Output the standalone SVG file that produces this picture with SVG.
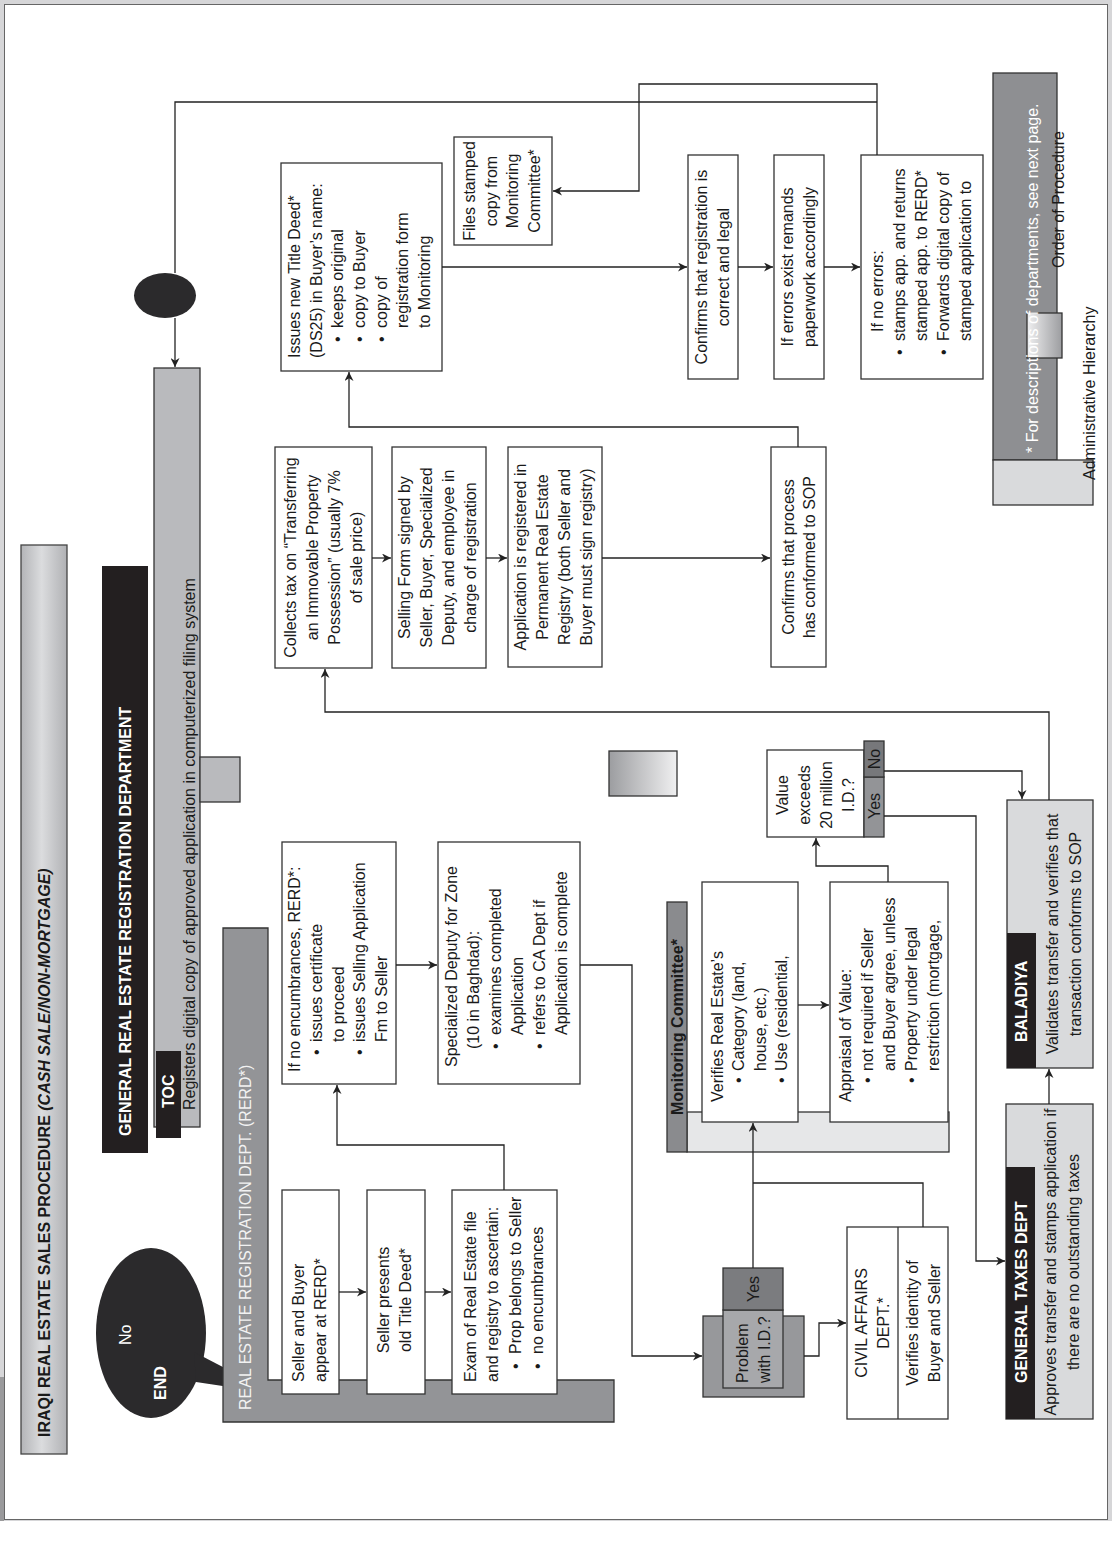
<svg xmlns="http://www.w3.org/2000/svg" width="1112" height="1552" viewBox="0 0 1112 1552">
<defs>
<style>
.t{font-family:"Liberation Sans",Arial,Helvetica,sans-serif;font-size:16px;fill:#1a1a1a}
.b{font-weight:bold}
.w{fill:#ffffff}
.c{text-anchor:middle}
.box{fill:#ffffff;stroke:#333333;stroke-width:1.3}
.gbox{fill:#d9dadc;stroke:#333333;stroke-width:1.3}
.blk{fill:#231f20}
.conn{fill:none;stroke:#222222;stroke-width:1.3}
.arr{marker-end:url(#arr)}
</style>
<marker id="arr" viewBox="0 0 10 10" refX="10" refY="5" markerWidth="11" markerHeight="9" markerUnits="userSpaceOnUse" orient="auto">
<path d="M0,0 L10,5 L0,10 L3,5 Z" fill="#222222"/>
</marker>
<linearGradient id="gTitle" x1="0" y1="0" x2="0" y2="1">
<stop offset="0" stop-color="#b3b4b7"/>
<stop offset="0.45" stop-color="#dbdcde"/>
<stop offset="1" stop-color="#b0b1b4"/>
</linearGradient>
<linearGradient id="gMid" x1="0" y1="0" x2="0" y2="1">
<stop offset="0" stop-color="#9c9da0"/>
<stop offset="1" stop-color="#f0f0f1"/>
</linearGradient>
<linearGradient id="gLeg" x1="0" y1="0" x2="0" y2="1">
<stop offset="0" stop-color="#f0f0f1"/>
<stop offset="1" stop-color="#9c9da0"/>
</linearGradient>
</defs>

<g id="page">
<rect x="0" y="0" width="1112" height="1521" fill="#d6d6d8"/>
<rect x="4.5" y="4.5" width="1103" height="1515" fill="#ffffff" stroke="#666666" stroke-width="1"/>
<rect x="0" y="1377" width="4" height="144" fill="#9a9a9c"/>
</g>

<g transform="translate(0,1552) rotate(-90)">

<g id="title">
<rect x="98" y="21" width="909" height="46" fill="url(#gTitle)" stroke="#444444" stroke-width="1.3"/>
<text x="115" y="50" class="t b">IRAQI REAL ESTATE SALES PROCEDURE <tspan font-style="italic">(CASH SALE/NON-MORTGAGE)</tspan></text>
</g>

<g id="end">
<ellipse cx="219" cy="151" rx="85" ry="55" fill="#2b2a2c"/>
<path d="M200,194 L158,275 L170,196 Z" fill="#2b2a2c"/>
<text x="207" y="131" class="t w" font-size="14">No</text>
<text x="152" y="166" class="t b w" font-size="24">END</text>
</g>

<g id="grerd-header">
<rect x="399" y="102" width="587" height="46" class="blk"/>
<text x="416" y="131" class="t b w" font-size="16.5">GENERAL REAL ESTATE REGISTRATION DEPARTMENT</text>
</g>

<g id="toc">
<rect x="425" y="154" width="759" height="46" fill="#b9babd" stroke="#333333" stroke-width="1.3"/>
<rect x="750" y="200" width="45" height="40" fill="#b9babd" stroke="#333333" stroke-width="1.3"/>
<rect x="414" y="156" width="87" height="25" class="blk"/>
<text x="444" y="174" class="t b w" font-size="15">TOC</text>
<text x="442" y="195" class="t">Registers digital copy of approved application in computerized filing system</text>
</g>

<g id="rerd-lane">
<path d="M130,223 H624 V268 H172 V614 H130 Z" fill="#939497" stroke="#333333" stroke-width="1.3"/>
<text x="142" y="251" class="t" style="fill:#f2f2f2">REAL ESTATE REGISTRATION DEPT. (RERD*)</text>
</g>

<g id="monitoring-lane">
<rect x="400" y="687" width="40" height="262" fill="#e6e7e8" stroke="#333333" stroke-width="1.3"/>
<rect x="400" y="667" width="250" height="20" fill="#8a8b8e" stroke="#333333" stroke-width="1.3"/>
<text x="437" y="682.5" class="t b" font-size="15.5">Monitoring Committee*</text>
</g>

<g id="legend-mid">
<rect x="756" y="609" width="45" height="68" fill="url(#gMid)" stroke="#333333" stroke-width="1.3"/>
</g>

<g id="n-appear">
<rect x="158" y="282" width="204" height="57" class="box"/>
<text class="t"><tspan x="170" y="304">Seller and Buyer</tspan><tspan x="170" y="326">appear at RERD*</tspan></text>
</g>

<g id="n-presents">
<rect x="158" y="367" width="204" height="58" class="box"/>
<text class="t c"><tspan x="252" y="389">Seller presents</tspan><tspan x="252" y="411">old Title Deed*</tspan></text>
</g>

<g id="n-exam">
<rect x="158" y="452" width="204" height="105" class="box"/>
<text class="t"><tspan x="170" y="476">Exam of Real Estate file</tspan><tspan x="170" y="498">and registry to ascertain:</tspan><tspan x="183" y="520.5">•</tspan><tspan x="198" y="520.5">Prop belongs to Seller</tspan><tspan x="183" y="543">•</tspan><tspan x="198" y="543">no encumbrances</tspan></text>
</g>

<g id="n-noenc">
<rect x="468" y="282" width="242" height="114" class="box"/>
<text class="t"><tspan x="480" y="300">If no encumbrances, RERD*:</tspan><tspan x="497" y="321.5">•</tspan><tspan x="510" y="321.5">issues certificate</tspan><tspan x="510" y="343.5">to proceed</tspan><tspan x="497" y="365">•</tspan><tspan x="510" y="365">issues Selling Application</tspan><tspan x="510" y="386.5">Fm to Seller</tspan></text>
</g>

<g id="n-deputy">
<rect x="468" y="438" width="242" height="142" class="box"/>
<text class="t"><tspan x="485" y="457">Specialized Deputy for Zone</tspan><tspan x="503" y="479">(10 in Baghdad):</tspan><tspan x="503" y="501">•</tspan><tspan x="517" y="501">examines completed</tspan><tspan x="517" y="523">Application</tspan><tspan x="503" y="545">•</tspan><tspan x="517" y="545">refers to CA Dept if</tspan><tspan x="517" y="567">Application is complete</tspan></text>
</g>

<g id="n-problem">
<rect x="155" y="703" width="81" height="101" fill="#97989b" stroke="#333333" stroke-width="1.3"/>
<rect x="164" y="723" width="78" height="60" fill="#a7a8ab" stroke="#333333" stroke-width="1.3"/>
<rect x="242" y="723" width="42" height="60" fill="#7b7c7f" stroke="#333333" stroke-width="1.3"/>
<text class="t"><tspan x="169" y="748">Problem</tspan><tspan x="169" y="770">with I.D.?</tspan></text>
<text x="263" y="759" class="t c">Yes</text>
</g>

<g id="n-civil">
<rect x="133" y="847" width="192" height="101" class="box"/>
<line x1="133" y1="898" x2="325" y2="898" stroke="#333333" stroke-width="1.3"/>
<text class="t c"><tspan x="229" y="867">CIVIL AFFAIRS</tspan><tspan x="229" y="889">DEPT.*</tspan><tspan x="229" y="918">Verifies identity of</tspan><tspan x="229" y="940">Buyer and Seller</tspan></text>
</g>

<g id="n-verifies">
<rect x="430" y="702" width="240" height="96" class="box"/>
<text class="t"><tspan x="450" y="723">Verifies Real Estate’s</tspan><tspan x="469" y="744">•</tspan><tspan x="481" y="744">Category (land,</tspan><tspan x="481" y="765.5">house, etc.)</tspan><tspan x="469" y="787">•</tspan><tspan x="481" y="787">Use (residential,</tspan></text>
</g>

<g id="n-appraisal">
<rect x="430" y="830" width="240" height="118" class="box"/>
<text class="t"><tspan x="450" y="851">Appraisal of Value:</tspan><tspan x="469" y="873">•</tspan><tspan x="481" y="873">not required if Seller</tspan><tspan x="481" y="895">and Buyer agree, unless</tspan><tspan x="469" y="917">•</tspan><tspan x="481" y="917">Property under legal</tspan><tspan x="481" y="939">restriction (mortgage,</tspan></text>
</g>

<g id="n-value">
<rect x="715" y="767" width="87" height="97" class="box"/>
<text class="t c"><tspan x="757" y="788">Value</tspan><tspan x="757" y="810">exceeds</tspan><tspan x="757" y="832">20 million</tspan><tspan x="757" y="854">I.D.?</tspan></text>
<rect x="715" y="864" width="60" height="20" fill="#939497" stroke="#333333" stroke-width="1.3"/>
<rect x="775" y="864" width="36" height="20" fill="#77787b" stroke="#333333" stroke-width="1.3"/>
<text x="746" y="879.5" class="t c" font-size="15">Yes</text>
<text x="793" y="879.5" class="t c" font-size="15">No</text>
</g>

<g id="n-taxes">
<rect x="133" y="1006" width="315" height="87" class="gbox"/>
<rect x="133" y="1006" width="252" height="29" class="blk"/>
<text x="169" y="1027" class="t b w">GENERAL TAXES DEPT</text>
<text class="t c" font-size="15.5"><tspan x="290" y="1056">Approves transfer and stamps application if</tspan><tspan x="290" y="1079">there are no outstanding taxes</tspan></text>
</g>

<g id="n-baladiya">
<rect x="484" y="1007" width="268" height="86" class="gbox"/>
<rect x="484" y="1007" width="135" height="29" class="blk"/>
<text x="510" y="1027" class="t b w">BALADIYA</text>
<text class="t c"><tspan x="618" y="1058">Validates transfer and verifies that</tspan><tspan x="618" y="1081">transaction conforms to SOP</tspan></text>
</g>

<g id="n-collects">
<rect x="884" y="275" width="221" height="97" class="box"/>
<text class="t c"><tspan x="994.5" y="296">Collects tax on “Transferring</tspan><tspan x="994.5" y="318">an Immovable Property</tspan><tspan x="994.5" y="340">Possession” (usually 7%</tspan><tspan x="994.5" y="362">of sale price)</tspan></text>
</g>

<g id="n-selling">
<rect x="884" y="392" width="221" height="94" class="box"/>
<text class="t c"><tspan x="994.5" y="410">Selling Form signed by</tspan><tspan x="994.5" y="432">Seller, Buyer, Specialized</tspan><tspan x="994.5" y="454">Deputy, and employee in</tspan><tspan x="994.5" y="476">charge of registration</tspan></text>
</g>

<g id="n-application">
<rect x="885" y="508" width="220" height="94" class="box"/>
<text class="t c"><tspan x="995" y="526">Application is registered in</tspan><tspan x="995" y="548">Permanent Real Estate</tspan><tspan x="995" y="570">Registry (both Seller and</tspan><tspan x="995" y="592">Buyer must sign registry)</tspan></text>
</g>

<g id="n-confirms-sop">
<rect x="885" y="771" width="220" height="55" class="box"/>
<text class="t c"><tspan x="995" y="793.5">Confirms that process</tspan><tspan x="995" y="815">has conformed to SOP</tspan></text>
</g>

<g id="n-issues">
<rect x="1181" y="281" width="208" height="161" class="box"/>
<text class="t"><tspan x="1194" y="300">Issues new Title Deed*</tspan><tspan x="1194" y="321.5">(DS25) in Buyer’s name:</tspan><tspan x="1210" y="343">•</tspan><tspan x="1224" y="343">keeps original</tspan><tspan x="1210" y="365">•</tspan><tspan x="1224" y="365">copy to Buyer</tspan><tspan x="1210" y="386.5">•</tspan><tspan x="1224" y="386.5">copy of</tspan><tspan x="1224" y="408">registration form</tspan><tspan x="1224" y="430">to Monitoring</tspan></text>
</g>

<g id="n-files">
<rect x="1307" y="454" width="108" height="98" class="box"/>
<text class="t c"><tspan x="1361" y="475">Files stamped</tspan><tspan x="1361" y="496.5">copy from</tspan><tspan x="1361" y="518">Monitoring</tspan><tspan x="1361" y="539.5">Committee*</tspan></text>
</g>

<g id="n-confirms-legal">
<rect x="1173" y="688" width="224" height="50" class="box"/>
<text class="t c"><tspan x="1285" y="707">Confirms that registration is</tspan><tspan x="1285" y="729">correct and legal</tspan></text>
</g>

<g id="n-errors">
<rect x="1173" y="774" width="224" height="50" class="box"/>
<text class="t c"><tspan x="1285" y="793">If errors exist remands</tspan><tspan x="1285" y="815">paperwork accordingly</tspan></text>
</g>

<g id="n-noerrors">
<rect x="1173" y="861" width="224" height="122" class="box"/>
<text class="t"><tspan x="1220" y="883">If no errors:</tspan><tspan x="1197" y="905">•</tspan><tspan x="1211" y="905">stamps app. and returns</tspan><tspan x="1211" y="927">stamped app. to RERD*</tspan><tspan x="1197" y="949">•</tspan><tspan x="1211" y="949">Forwards digital copy of</tspan><tspan x="1211" y="971">stamped application to</tspan></text>
</g>

<g id="n-junction">
<ellipse cx="1256.5" cy="165" rx="22.5" ry="31" fill="#2b2a2c"/>
</g>

<g id="legend">
<rect x="1092" y="993" width="387" height="64" fill="#8e8f92" stroke="#333333" stroke-width="1.3"/>
<rect x="1047" y="993" width="45" height="100" fill="#d9dadc" stroke="#333333" stroke-width="1.3"/>
<rect x="1194" y="1027" width="45" height="35" fill="url(#gLeg)" stroke="#333333" stroke-width="1.3"/>
<text x="1099" y="1038" class="t w">* For descriptions of departments, see next page.</text>
<text x="1284" y="1064" class="t">Order of Procedure</text>
<text x="1072" y="1095" class="t">Administrative Hierarchy</text>
</g>

<g id="connectors">
<path class="conn arr" d="M260,339 L260,366"/>
<path class="conn arr" d="M260,425 L260,451"/>
<path class="conn arr" d="M362,504 L407,504 L407,337 L467,337"/>
<path class="conn arr" d="M587,396 L587,437"/>
<path class="conn arr" d="M587,580 L587,632 L196,632 L196,702"/>
<path class="conn arr" d="M196,804 L196,819 L229,819 L229,846"/>
<path class="conn" d="M325,923 L369,923 L369,753"/>
<path class="conn arr" d="M284,753 L429,753"/>
<path class="conn arr" d="M547,798 L547,829"/>
<path class="conn arr" d="M670,888 L686,888 L686,816 L714,816"/>
<path class="conn arr" d="M781,884 L781,1022 L753,1022"/>
<path class="conn arr" d="M736,884 L736,976 L291,976 L291,1005"/>
<path class="conn arr" d="M448,1049 L483,1049"/>
<path class="conn arr" d="M752,1049 L840,1049 L840,325 L883,325"/>
<path class="conn arr" d="M994,372 L994,391"/>
<path class="conn arr" d="M994,486 L994,507"/>
<path class="conn arr" d="M994,602 L994,770"/>
<path class="conn arr" d="M1105,798 L1125,798 L1125,349 L1180,349"/>
<path class="conn arr" d="M1285,442 L1285,687"/>
<path class="conn arr" d="M1285,738 L1285,773"/>
<path class="conn arr" d="M1285,824 L1285,860"/>
<path class="conn arr" d="M1397,877 L1468,877 L1468,639 L1361,639 L1361,553"/>
<path class="conn" d="M1450,877 L1450,175 L1279,175"/>
<path class="conn arr" d="M1234,175 L1185,175"/>
</g>

</g>
</svg>
